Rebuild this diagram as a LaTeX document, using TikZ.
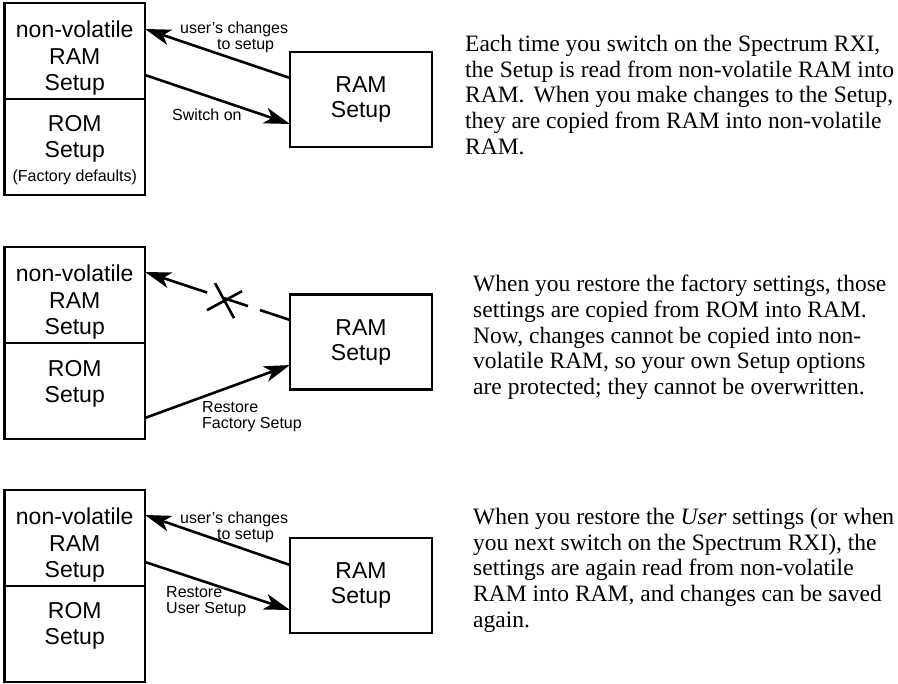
\documentclass[tikz,border=0pt]{standalone}
\usepackage{fontspec}
\setmainfont{Liberation Serif}
\setsansfont{Liberation Sans}
\usetikzlibrary{arrows.meta, positioning, calc}

\tikzset{
    membox/.style={
        draw,
        line width=2.6pt,
        outer sep=0pt,
        inner sep=0pt,
        minimum width=140.5pt,
        minimum height=96pt
    },
    ramset/.style={
        draw,
        line width=2.6pt,
        outer sep=0pt,
        minimum width=142pt,
        minimum height=95pt,
        align=center,
        font=\sffamily\fontsize{23}{25}\selectfont
    },
    boxtext/.style={
        inner sep=0pt,
        align=center,
        font=\sffamily\fontsize{23}{26.5}\selectfont
    },
    note/.style={
        inner sep=0pt,
        font=\sffamily\fontsize{16}{16}\selectfont
    },
    para/.style={
        inner sep=0pt,
        anchor=north west,
        align=left,
        font=\fontsize{23.5}{25.7}\selectfont
    },
    flow/.style={
        line width=2.6pt,
        -{Stealth[length=26pt,width=16pt,inset=7pt]}
    }
}

\begin{document}
\begin{tikzpicture}[x=1pt, y=-1pt]
\useasboundingbox (0,0) rectangle (898,684);

% Switch on
\node[membox] (nvram1) at (74.75,51) {};
\node[membox, below=0pt of nvram1] (rom1) {};
\node[boxtext, below=18pt of nvram1.north] (nvtext1) {non-volatile\\RAM\\Setup};
\node[boxtext, below=16pt of rom1.north] (romtext1) {ROM\\Setup\\[-3pt]{\fontsize{16}{16}\selectfont(Factory defaults)}};
\node[ramset] (ram1) at (361,99.5) {RAM\\Setup};

\draw[flow] ($(ram1.west)+(0,-21.5)$) -- ($(nvram1.east)+(0,-22)$);
\draw[flow] ($(nvram1.east)+(0,24)$) -- ($(ram1.west)+(0,24.5)$);
\node[note, anchor=north west, align=right] (chg1) at (180,22) {user’s changes\\to setup\hspace*{14pt}};
\node[note, anchor=base west] (swon1) at (172,121) {Switch on};

\node[para] (txt1) at (465,35) {Each time you switch on the Spectrum RXI,\\the Setup is read from non-volatile RAM into\\RAM.\hspace{9pt}When you make changes to the Setup,\\they are copied from RAM into non-volatile\\RAM.};

% Restore factory setup
\node[membox] (nvram2) at (74.75,295) {};
\node[membox, below=0pt of nvram2] (rom2) {};
\node[boxtext, below=18pt of nvram2.north] (nvtext2) {non-volatile\\RAM\\Setup};
\node[boxtext, below=17pt of rom2.north] (romtext2) {ROM\\Setup};
\node[ramset] (ram2) at (361,342) {RAM\\Setup};

\coordinate (blk2a) at ($(ram2.west)+(0,-22)$);
\coordinate (blk2b) at ($(nvram2.east)+(0,-23)$);
\draw[flow, dash pattern=on 31.6pt off 12.6pt on 25.3pt off 17.9pt on 300pt] (blk2a) -- (blk2b);
\coordinate (cross2) at ($(blk2a)!0.455!(blk2b)$);
\draw[line width=2.6pt] ($(cross2)+(-17,12)$) -- ($(cross2)+(18,-7)$);
\draw[line width=2.6pt] ($(cross2)+(-9,-15)$) -- ($(cross2)+(10,20)$);
\draw[flow] ($(rom2.east)+(0,27)$) -- ($(ram2.west)+(0,23)$);
\node[note, anchor=north west, align=left] (rst2) at (202,401) {Restore\\Factory Setup};

\node[para] (txt2) at (473,275) {When you restore the factory settings, those\\settings are copied from ROM into RAM.\\Now, changes cannot be copied into non-\\volatile RAM, so your own Setup options\\are protected; they cannot be overwritten.};

% Restore user setup
\node[membox] (nvram3) at (74.75,538) {};
\node[membox, below=0pt of nvram3] (rom3) {};
\node[boxtext, below=18pt of nvram3.north] (nvtext3) {non-volatile\\RAM\\Setup};
\node[boxtext, below=16pt of rom3.north] (romtext3) {ROM\\Setup};
\node[ramset] (ram3) at (361,585.5) {RAM\\Setup};

\draw[flow] ($(ram3.west)+(0,-20.5)$) -- ($(nvram3.east)+(0,-23)$);
\draw[flow] ($(nvram3.east)+(0,24)$) -- ($(ram3.west)+(0,24.5)$);
\node[note, anchor=north west, align=right] (chg3) at (180,512) {user’s changes\\to setup\hspace*{14pt}};
\node[note, anchor=north west, align=left] (rst3) at (166,586) {Restore\\User Setup};

\node[para] (txt3) at (473,508) {When you restore the \textit{User} settings (or when\\you next switch on the Spectrum RXI), the\\settings are again read from non-volatile\\RAM into RAM, and changes can be saved\\again.};
\end{tikzpicture}
\end{document}
